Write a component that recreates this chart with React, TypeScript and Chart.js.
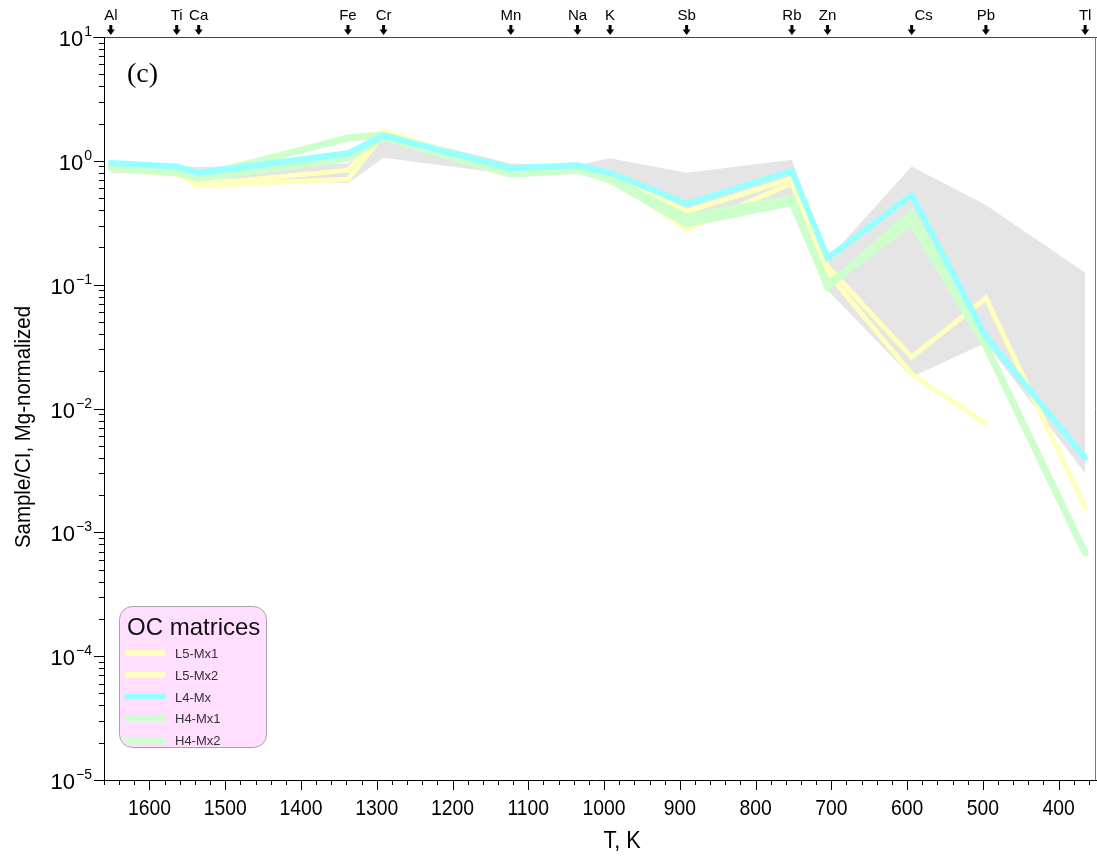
import React, { useEffect, useRef } from 'react';
import { Chart, registerables } from 'chart.js';
Chart.register(...registerables);

// Elements along the top axis and their 50% condensation temperatures (K)
const elements = ['Al', 'Ti', 'Ca', 'Fe', 'Cr', 'Mn', 'Na', 'K', 'Sb', 'Rb', 'Zn', 'Cs', 'Pb', 'Tl'];
const temperatures = [1651, 1564, 1535, 1338, 1291, 1123, 1035, 992, 891, 752, 705, 594, 496, 365];

// Series (Sample/CI, Mg-normalized); null = not measured
const L5Mx1 = [0.9, 0.82, 0.64, 0.84, 1.75, 0.82, 0.87, 0.77, 0.39, 0.72, 0.14, 0.026, 0.078, 0.0016];
const L5Mx2 = [0.86, 0.78, 0.63, 0.71, 1.65, 0.8, 0.85, 0.74, 0.28, 0.66, 0.125, 0.019, 0.0076, null];
const L4Mx = [0.96, 0.9, 0.8, 1.15, 1.6, 0.87, 0.92, 0.8, 0.45, 0.83, 0.164, 0.53, 0.038, 0.004];
const H4Mx1 = [0.9, 0.84, 0.75, 1.53, 1.62, 0.8, 0.86, 0.72, 0.35, 0.5, 0.096, 0.38, 0.034, null];
const H4Mx2 = [0.88, 0.8, 0.72, 1.05, 1.55, 0.78, 0.84, 0.7, 0.31, 0.46, 0.1, 0.32, 0.032, 0.00068];

// Grey envelope (range of other samples)
const bandUpper = [0.93, 0.9, 0.89, 0.95, 1.7, 0.95, 0.92, 1.05, 0.8, 1.02, 0.16, 0.9, 0.44, 0.125];
const bandLower = [0.8, 0.77, 0.73, 0.66, 1.06, 0.78, 0.83, 0.72, 0.28, 0.5, 0.09, 0.018, 0.034, 0.003];

// Axis ticks
const xTickLabels = [1600, 1500, 1400, 1300, 1200, 1100, 1000, 900, 800, 700, 600, 500, 400];
const yDecades = [1, 0, -1, -2, -3, -4, -5];

const seriesNames = ['L5-Mx1', 'L5-Mx2', 'L4-Mx', 'H4-Mx1', 'H4-Mx2'];
const seriesValues = [L5Mx1, L5Mx2, L4Mx, H4Mx1, H4Mx2];
const seriesColors = ['rgb(255,255,190)', 'rgb(255,255,190)', 'rgb(150,255,255)', 'rgb(204,255,204)', 'rgb(204,255,204)'];
const seriesWidths = [5, 5, 6, 7, 7];
const seriesOrder = [5, 4, 1, 3, 2];

const toPoints = (vals: (number | null)[]) => temperatures.map((t, i) => ({ x: t, y: vals[i] }));

const SANS = "'Liberation Sans', Arial, sans-serif";

function narrowText(ctx: CanvasRenderingContext2D, text: string, x: number, y: number, sx: number, align: CanvasTextAlign) {
  ctx.save();
  ctx.translate(x, y);
  ctx.scale(sx, 1);
  ctx.textAlign = align;
  ctx.fillText(text, 0, 0);
  ctx.restore();
}

const decorPlugin = {
  id: 'decor',
  afterDraw(chart: any) {
    const ctx: CanvasRenderingContext2D = chart.ctx;
    const xs = chart.scales.x;
    const ys = chart.scales.y;
    const { left, right, top, bottom } = chart.chartArea;
    const W = chart.width;
    ctx.save();
    const hl = (x1: number, x2: number, y: number) => { ctx.beginPath(); ctx.moveTo(x1, Math.round(y) + 0.5); ctx.lineTo(x2, Math.round(y) + 0.5); ctx.stroke(); };
    const vl = (x: number, y1: number, y2: number) => { ctx.beginPath(); ctx.moveTo(Math.round(x) + 0.5, y1); ctx.lineTo(Math.round(x) + 0.5, y2); ctx.stroke(); };

    // frame
    ctx.lineWidth = 1;
    ctx.strokeStyle = '#444';
    hl(left - 11, W, top);
    ctx.strokeStyle = '#777';
    vl(right, top, bottom);
    ctx.strokeStyle = '#000';
    vl(left, top, bottom + 1);
    hl(left - 10, W, bottom);

    // y ticks
    for (let n = -5; n <= 1; n++) {
      const y = ys.getPixelForValue(Math.pow(10, n));
      hl(left - 10, left, y);
      if (n < 1) {
        for (let k = 2; k <= 9; k++) {
          const ym = ys.getPixelForValue(k * Math.pow(10, n));
          hl(left - 5, left, ym);
        }
      }
    }
    // y labels
    ctx.fillStyle = '#000';
    yDecades.forEach((n) => {
      const y = ys.getPixelForValue(Math.pow(10, n));
      const sup = String(n).replace('-', '\u2212');
      ctx.font = `14px ${SANS}`;
      ctx.textAlign = 'right';
      ctx.textBaseline = 'alphabetic';
      const sw = ctx.measureText(sup).width;
      ctx.fillText(sup, 92, y - 1);
      ctx.font = `22px ${SANS}`;
      ctx.fillText('10', 92 - sw - 1, y + 9);
    });

    // x ticks
    for (let t = 360; t <= 1660; t += 20) {
      const x = xs.getPixelForValue(t);
      if (x < left - 1 || x > right + 1) continue;
      const major = t % 100 === 0;
      vl(x, bottom, bottom + (major ? 10 : 5));
    }
    ctx.font = `22px ${SANS}`;
    ctx.textBaseline = 'alphabetic';
    xTickLabels.forEach((t) => {
      narrowText(ctx, String(t), xs.getPixelForValue(t), 815, 0.88, 'center');
    });
    // x title
    ctx.font = `24px ${SANS}`;
    narrowText(ctx, 'T, K', 622, 848, 0.9, 'center');

    // y title
    ctx.save();
    ctx.translate(30, 427);
    ctx.rotate(-Math.PI / 2);
    ctx.font = `22px ${SANS}`;
    ctx.scale(0.93, 1);
    ctx.textAlign = 'center';
    ctx.fillText('Sample/CI, Mg-normalized', 0, 0);
    ctx.restore();

    // element markers on the top axis
    ctx.font = `15px ${SANS}`;
    ctx.textAlign = 'center';
    elements.forEach((el, i) => {
      const x = xs.getPixelForValue(temperatures[i]);
      ctx.fillStyle = '#000';
      ctx.fillRect(x - 1.5, 25, 3, 6);
      ctx.beginPath();
      ctx.moveTo(x - 4, 29.5);
      ctx.lineTo(x + 4, 29.5);
      ctx.lineTo(x, 35);
      ctx.closePath();
      ctx.fill();
      const dx = el === 'Cs' ? 12 : 0;
      ctx.fillText(el, x + dx, 20);
    });

    // panel label
    ctx.font = "28px 'Liberation Serif', 'Times New Roman', serif";
    ctx.textAlign = 'left';
    ctx.fillText('(c)', 127, 82);

    // legend
    const lx = 119.5, ly = 606.5, lw = 147, lh = 141, r = 13;
    ctx.beginPath();
    ctx.moveTo(lx + r, ly);
    ctx.lineTo(lx + lw - r, ly);
    ctx.arcTo(lx + lw, ly, lx + lw, ly + r, r);
    ctx.lineTo(lx + lw, ly + lh - r);
    ctx.arcTo(lx + lw, ly + lh, lx + lw - r, ly + lh, r);
    ctx.lineTo(lx + r, ly + lh);
    ctx.arcTo(lx, ly + lh, lx, ly + lh - r, r);
    ctx.lineTo(lx, ly + r);
    ctx.arcTo(lx, ly, lx + r, ly, r);
    ctx.closePath();
    ctx.fillStyle = 'rgb(255,222,255)';
    ctx.fill();
    ctx.strokeStyle = 'rgb(165,165,165)';
    ctx.lineWidth = 1;
    ctx.stroke();
    ctx.fillStyle = '#111';
    ctx.font = `24px ${SANS}`;
    ctx.fillText('OC matrices', 127, 635);
    seriesNames.forEach((name, i) => {
      const y = 653 + i * 21.8;
      ctx.strokeStyle = seriesColors[i];
      ctx.lineWidth = 6;
      ctx.lineCap = 'round';
      ctx.beginPath();
      ctx.moveTo(127, y);
      ctx.lineTo(163, y);
      ctx.stroke();
      ctx.fillStyle = '#333';
      ctx.font = `13px ${SANS}`;
      ctx.textAlign = 'left';
      ctx.fillText(name, 175, y + 5);
    });
    ctx.restore();
  },
};

export default function App() {
  const ref = useRef<HTMLCanvasElement | null>(null);
  useEffect(() => {
    document.body.style.margin = '0';
    if (!ref.current) return;
    const datasets: any[] = [
      {
        label: 'upper',
        data: toPoints(bandUpper),
        borderWidth: 0,
        borderColor: 'rgba(0,0,0,0)',
        backgroundColor: 'rgb(229,229,229)',
        fill: false,
        order: 10,
        pointRadius: 0,
      },
      {
        label: 'lower',
        data: toPoints(bandLower),
        borderWidth: 0,
        borderColor: 'rgba(0,0,0,0)',
        backgroundColor: 'rgb(229,229,229)',
        fill: 0,
        order: 9,
        pointRadius: 0,
      },
      ...seriesNames.map((name, i) => ({
        label: name,
        data: toPoints(seriesValues[i]),
        borderColor: seriesColors[i],
        backgroundColor: seriesColors[i],
        borderWidth: seriesWidths[i],
        borderCapStyle: 'round',
        borderJoinStyle: 'miter',
        fill: false,
        order: seriesOrder[i],
        pointRadius: 0,
        tension: 0,
      })),
    ];
    const chart = new Chart(ref.current, {
      type: 'line',
      data: { datasets },
      options: {
        animation: false,
        responsive: false,
        maintainAspectRatio: false,
        layout: { padding: { left: 104, right: 2, top: 37, bottom: 80 } },
        scales: {
          x: { type: 'linear', reverse: true, min: 352, max: 1660, display: false },
          y: { type: 'logarithmic', min: 1e-5, max: 10, display: false },
        },
        plugins: { legend: { display: false }, tooltip: { enabled: false } },
        elements: { point: { radius: 0 } },
      },
      plugins: [decorPlugin],
    } as any);
    return () => chart.destroy();
  }, []);
  return (
    <div style={{ width: 1097, height: 860, background: '#fff' }}>
      <canvas ref={ref} width={1097} height={860} style={{ display: 'block' }} />
    </div>
  );
}
